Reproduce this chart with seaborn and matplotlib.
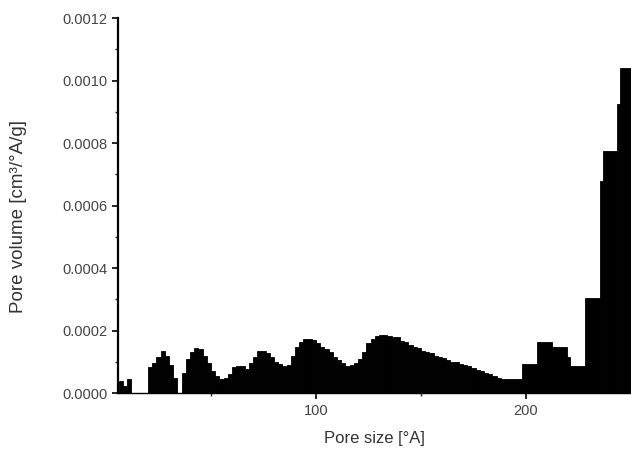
import matplotlib
matplotlib.use("Agg")
import matplotlib.pyplot as plt
import matplotlib.ticker as mticker
import seaborn as sns

sns.set_style("ticks")
plt.rcParams['font.family'] = ['Liberation Sans', 'DejaVu Sans']

# Bin edges of the pore size distribution (Å)
bin_edges = [6, 8, 10, 12, 14, 16, 18, 20, 22, 24, 26, 28, 30, 32, 34, 36, 38, 40,
             42, 44, 46, 48, 50, 52, 54, 56, 58, 60, 62, 64, 66, 68, 70, 72, 74, 76,
             78, 80, 82, 84, 86, 88, 90, 92, 94, 96, 98, 100, 102, 104, 106, 108, 110,
             112, 114, 116, 118, 120, 122, 124, 126, 128, 130, 132, 134, 136, 138, 140,
             142, 144, 146, 148, 150, 152, 154, 156, 158, 160, 162, 164, 166, 168, 170,
             172, 174, 176, 178, 180, 182, 184, 186, 188, 190, 192, 194, 196, 198,
             205, 212.5, 219.5, 221, 228, 235, 236.7, 243.3, 244.8, 252]

# Pore volume per bin (cm³/Å/g)
pore_volume = [0.000038, 0.000022, 0.000044, 0, 0, 0, 0,
               0.000082, 0.000095, 0.000117, 0.000136, 0.00012, 0.000089, 0.000048, 0,
               0.000063, 0.00011, 0.000133, 0.000143, 0.00014, 0.00012, 0.000095,
               0.00007, 0.000054, 0.000044, 0.000048, 0.00006, 0.000082, 0.000086,
               0.000086, 0.000076, 0.000095, 0.000114, 0.000136, 0.000136, 0.000127,
               0.000114, 0.000101, 0.000092, 0.000086, 0.000089, 0.00012, 0.000146,
               0.000162, 0.000174, 0.000174, 0.000171, 0.000159, 0.000149, 0.00014,
               0.000133, 0.000117, 0.000105, 0.000095, 0.000086, 0.000089, 0.000095,
               0.000108, 0.000133, 0.000159, 0.000174, 0.000184, 0.000187, 0.000187,
               0.000184, 0.00018, 0.000178, 0.000168, 0.000162, 0.000155, 0.000149,
               0.000143, 0.000136, 0.00013, 0.000127, 0.00012, 0.000114, 0.000111,
               0.000105, 0.000101, 0.000098, 0.000092, 0.000089, 0.000086, 0.000079,
               0.000073, 0.00007, 0.000063, 0.00006, 0.000054, 0.000048, 0.000044,
               0.000044, 0.000044, 0.000044, 0.000044,
               0.000092, 0.000165, 0.000146, 0.000117, 0.000086, 0.000304, 0.00068,
               0.000774, 0.000926, 0.00104]

bin_centers = [(a + b) / 2 for a, b in zip(bin_edges[:-1], bin_edges[1:])]

fig = plt.figure(figsize=(6.31, 4.63), dpi=100)
ax = fig.add_axes([0.187, 0.151, 0.813, 0.81])

sns.histplot(x=bin_centers, weights=pore_volume, bins=bin_edges, stat='count',
             color='black', alpha=1, edgecolor='black', linewidth=0.6, ax=ax)

ax.set_xlim(5.7, 250)
ax.set_ylim(0, 0.0012)
ax.xaxis.set_major_locator(mticker.FixedLocator([100, 200]))
ax.xaxis.set_minor_locator(mticker.FixedLocator([50, 150]))
ax.yaxis.set_major_locator(mticker.MultipleLocator(0.0002))
ax.yaxis.set_minor_locator(mticker.MultipleLocator(0.0001))
ax.yaxis.set_major_formatter(mticker.FormatStrFormatter('%.4f'))

ax.tick_params(axis='both', which='major', direction='out', length=4.3, width=1.2,
               labelsize=10.5, colors='black', labelcolor='#444444', pad=3.5)
ax.tick_params(axis='both', which='minor', direction='out', length=2.5, width=1.0)

sns.despine(ax=ax)
ax.spines['left'].set_linewidth(1.6)
ax.spines['bottom'].set_linewidth(1.0)
ax.spines['left'].set_color('black')
ax.spines['bottom'].set_color('black')

ax.set_xlabel('Pore size [°A]', fontsize=12, color='#333333')
ax.set_ylabel('Pore volume [cm³/°A/g]', fontsize=13.5, color='#333333')
ax.xaxis.set_label_coords(0.5, -0.10)
ax.yaxis.set_label_coords(-0.178, 0.47)

fig.savefig('out.png', dpi=100)
